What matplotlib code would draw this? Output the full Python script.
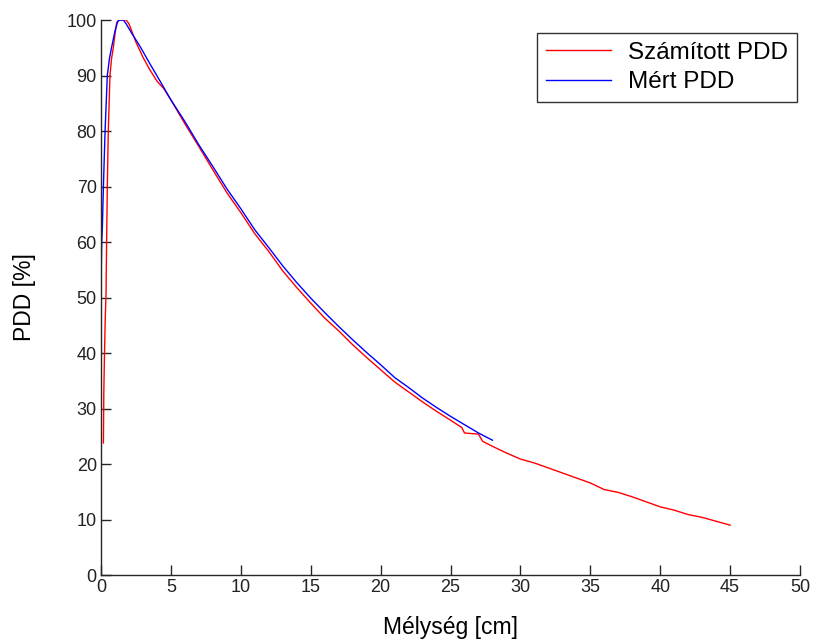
import matplotlib
matplotlib.use("Agg")
import matplotlib.pyplot as plt

plt.rcParams['font.family'] = ['Liberation Sans', 'DejaVu Sans']

# calculated depth dose curve
calc_depth = [0.17, 0.2, 0.25, 0.3, 0.36, 0.4, 0.45, 0.52, 0.64, 0.75, 0.88, 1.0,
              1.12, 1.3, 1.8, 2.0, 2.2, 2.5, 3.0, 3.5, 4, 4.5, 5, 6, 7, 8, 9, 10,
              11, 12, 13, 14, 15, 16, 17, 18, 19, 20, 21, 22, 23, 24, 25, 25.8,
              26, 27, 27.3, 28, 29, 30, 31, 32, 33, 34, 35, 36, 37, 38, 39, 40,
              41, 42, 43, 44, 45]
calc_pdd = [23.8, 33, 40, 46, 51, 60, 70, 80, 90, 93, 95, 97.5,
            99.5, 100, 100, 99.3, 98, 96, 93.3, 91, 89, 87.6, 85.6, 81.3, 77.2, 73, 68.9, 65.3,
            61.5, 58.3, 54.8, 51.8, 49, 46.3, 44, 41.5, 39.2, 37, 34.8, 33, 31.2, 29.5, 27.9, 26.6,
            25.6, 25.4, 24.1, 23.2, 22, 20.9, 20.2, 19.3, 18.4, 17.5, 16.6, 15.4, 14.9, 14.1, 13.2, 12.3,
            11.7, 10.9, 10.4, 9.7, 9.0]

# measured depth dose curve
meas_depth = [0, 0.05, 0.1, 0.17, 0.29, 0.45, 0.6, 0.75, 1.0, 1.2, 1.36, 1.6,
              1.8, 2.2, 2.8, 3.5, 4.2, 5, 6, 7, 8, 9, 10, 11, 12, 13, 14, 15,
              16, 17, 18, 19, 20, 21, 22, 23, 24, 25, 26, 27, 28]
meas_pdd = [52.7, 60, 63, 70, 80, 90, 93, 95, 98, 99.8, 100, 100,
            99.3, 97.6, 95.2, 92.1, 89.1, 85.6, 81.7, 77.5, 73.6, 69.6, 66, 62.2, 59, 55.7, 52.7, 49.9,
            47.3, 44.8, 42.4, 40.1, 37.9, 35.6, 33.8, 31.9, 30.2, 28.6, 27.1, 25.6, 24.3]

fig = plt.figure(figsize=(8.18, 6.39), dpi=100)
ax = fig.add_axes([0.1235, 0.1, 0.8545, 0.8687])

ax.plot(calc_depth, calc_pdd, color='red', lw=1, label='Számított PDD')
ax.plot(meas_depth, meas_pdd, color='blue', lw=1, label='Mért PDD')

ax.set_xlim(0, 50)
ax.set_ylim(0, 100)
ax.set_xticks(range(0, 51, 5))
ax.set_yticks(range(0, 101, 10))
ax.spines['top'].set_visible(False)
ax.spines['right'].set_visible(False)
for s in ('left', 'bottom'):
    ax.spines[s].set_color('#262626')
    ax.spines[s].set_linewidth(1)
ax.tick_params(direction='in', length=7, width=1, colors='#262626',
               labelsize=13, labelcolor='#222222', pad=3)

ax.set_xlabel('Mélység [cm]', fontsize=16.5, labelpad=14)
ax.set_ylabel('PDD [%]', fontsize=16.5, labelpad=22)

leg = ax.legend(loc='upper right', bbox_to_anchor=(0.9957, 0.9766),
                prop={'size': 17.5}, fancybox=False, frameon=True,
                handlelength=2.7, borderaxespad=0, borderpad=0.35,
                labelspacing=0.32, handletextpad=0.7)
leg.get_frame().set_edgecolor('black')
leg.get_frame().set_linewidth(1)

fig.savefig('out.png', dpi=100)
